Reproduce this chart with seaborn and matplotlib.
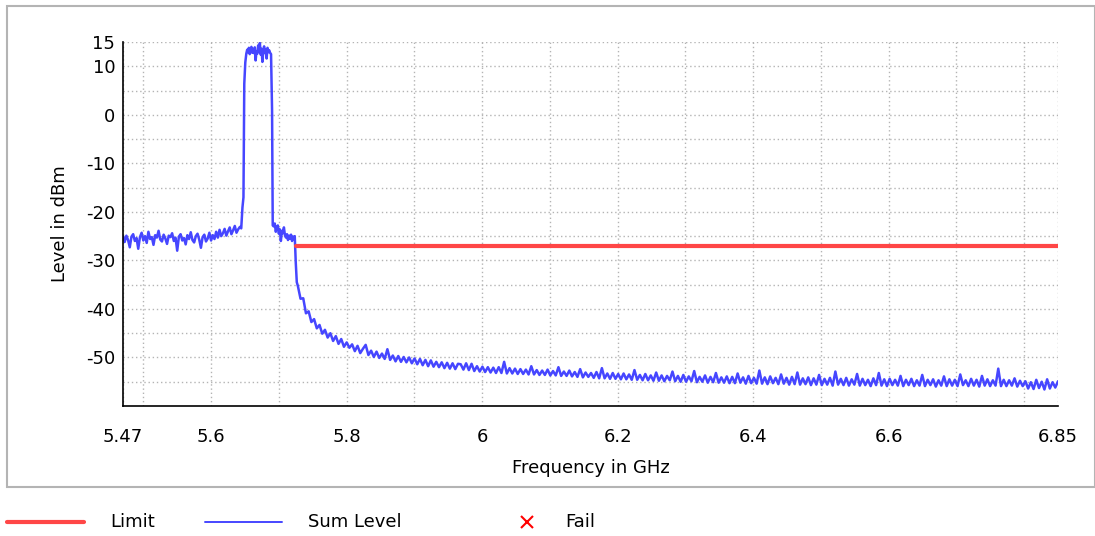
import numpy as np
import pandas as pd
import matplotlib
matplotlib.use("Agg")
import matplotlib.pyplot as plt
from matplotlib.lines import Line2D
from matplotlib.patches import Rectangle
import seaborn as sns

# ---- data (frequency in GHz, level in dBm) ----
# noise floor below the carrier, 5.470 .. 5.6425 GHz
floor_lo = [-25.0, -26.2, -24.9, -25.8, -27.3, -25.1, -24.6, -26.0, -25.4, -27.6,
            -25.2, -24.3, -25.9, -25.0, -26.4, -24.1, -25.6, -25.2, -26.8, -24.8,
            -25.3, -23.9, -25.7, -26.1, -24.7, -25.5, -26.6, -24.9, -25.2, -24.4,
            -26.0, -25.3, -28.0, -25.1, -24.6, -25.9, -25.4, -26.7, -24.8, -25.6,
            -24.2, -25.8, -26.3, -25.0, -24.5, -25.7, -27.4, -25.2, -24.7, -26.1,
            -25.5, -24.3, -25.9, -24.8, -25.6, -24.1, -25.3, -23.7, -25.0, -24.4,
            -23.5, -24.9, -24.0, -23.2, -24.6, -23.8, -22.9, -24.3, -23.6, -23.1]
# rising edge
rise_freq = [5.6445, 5.6463, 5.6478, 5.6490, 5.6505]
rise_level = [-23.4, -19.1, -17.0, 6.4, 10.8]
# carrier plateau 5.652 .. 5.687 GHz
plateau = [12.6, 13.4, 12.9, 13.8, 12.5, 13.2, 14.0, 12.8, 13.5, 12.7,
           13.9, 11.2, 13.1, 12.6, 14.3, 13.0, 14.8, 12.4, 13.6, 10.9,
           13.2, 14.1, 12.7, 13.5, 11.6, 13.8, 12.9, 13.3, 12.8]
# falling edge
fall_freq = [5.6885, 5.6900, 5.6910]
fall_level = [12.5, 1.0, -22.8]
# shoulder 5.6925 .. 5.7225 GHz
shoulder = [-23.0, -22.4, -24.1, -23.3, -22.8, -24.5, -23.6, -26.0, -23.9, -24.4,
            -23.2, -24.8, -25.3, -24.6, -25.8, -24.9, -25.5, -24.7, -26.0, -25.1, -25.4]
# step down
step_freq = [5.7235, 5.7250, 5.7265]
step_level = [-25.0, -30.5, -34.5]
# decaying skirt 5.728 .. 6.85 GHz
skirt = [
    -35.2, -37.9, -37.8, -40.9, -40.5, -42.7, -42.1, -44.0, -43.3, -45.1,
    -44.3, -45.9, -45.0, -46.6, -45.6, -47.2, -46.2, -47.8, -46.9, -48.0,
    -47.3, -48.7, -47.6, -49.1, -48.2, -47.4, -49.5, -48.6, -49.9, -48.8,
    -50.1, -49.2, -50.3, -48.3, -50.5, -49.6, -50.8, -49.7, -50.9, -49.9,
    -51.0, -50.0, -51.2, -50.2, -51.4, -50.3, -51.6, -50.5, -51.8, -50.6,
    -51.9, -50.9, -52.0, -51.0, -52.2, -51.1, -52.3, -51.2, -52.4, -51.3,
    -51.4, -52.5, -51.2, -52.6, -51.3, -52.8, -51.8, -52.9, -51.9, -53.0,
    -52.0, -53.1, -52.1, -53.2, -52.0, -53.2, -50.9, -53.3, -52.2, -53.3,
    -52.3, -53.4, -52.4, -53.4, -52.5, -53.5, -51.8, -53.5, -52.6, -53.6,
    -52.7, -53.6, -52.5, -53.7, -52.8, -53.7, -52.0, -53.8, -52.9, -53.8,
    -52.7, -53.9, -53.0, -54.0, -52.4, -54.1, -53.1, -54.0, -53.2, -54.2,
    -53.0, -54.3, -52.2, -54.3, -53.3, -54.4, -53.2, -54.4, -53.4, -54.5,
    -53.3, -54.5, -53.5, -54.6, -52.6, -54.6, -53.6, -54.7, -53.4, -54.7,
    -53.7, -54.8, -53.1, -54.8, -53.7, -54.9, -53.8, -54.7, -52.9, -54.9,
    -53.8, -55.0, -53.6, -55.0, -53.9, -54.9, -52.8, -55.1, -54.0, -55.0,
    -53.7, -55.2, -54.0, -55.1, -53.2, -55.2, -54.1, -55.2, -53.9, -55.3,
    -54.0, -55.3, -53.3, -55.2, -54.1, -55.4, -53.8, -55.3, -54.2, -55.4,
    -52.7, -55.4, -54.1, -55.5, -53.9, -55.3, -54.2, -55.5, -53.5, -55.4,
    -54.2, -55.6, -54.0, -55.5, -53.1, -55.6, -54.3, -55.5, -54.1, -55.7,
    -54.3, -55.6, -53.6, -55.7, -54.4, -55.6, -54.2, -55.8, -52.9, -55.6,
    -54.4, -55.7, -54.2, -55.8, -54.5, -55.6, -53.4, -55.8, -54.4, -55.7,
    -54.6, -55.9, -54.3, -55.7, -53.2, -55.8, -54.5, -55.9, -54.4, -55.7,
    -54.6, -55.8, -53.8, -55.9, -54.6, -55.7, -54.4, -55.9, -54.7, -55.8,
    -53.6, -55.9, -54.6, -55.7, -54.5, -56.0, -54.7, -55.8, -53.9, -55.9,
    -54.5, -55.8, -54.6, -55.9, -53.5, -55.7, -54.7, -55.9, -54.4, -55.8,
    -54.6, -56.0, -53.8, -55.8, -54.5, -55.9, -54.7, -55.8, -52.3, -55.9,
    -54.6, -55.9, -54.7, -55.8, -54.3, -56.0, -54.8, -55.9, -54.9, -56.4,
    -55.1, -56.5, -54.6, -56.3, -55.0, -56.6, -54.5, -56.4, -55.1, -56.2,
    -54.9]

limit_freq = [5.725, 6.85]
limit_level = [-27.0, -27.0]

x_ticks = [5.47, 5.5, 5.6, 5.7, 5.8, 5.9, 6.0, 6.1, 6.2, 6.3, 6.4, 6.5, 6.6, 6.7, 6.8, 6.85]
x_labels = ["5.47", "", "5.6", "", "5.8", "", "6", "", "6.2", "", "6.4", "", "6.6", "", "", "6.85"]
y_ticks = [-55, -50, -45, -40, -35, -30, -25, -20, -15, -10, -5, 0, 5, 10, 15]
y_labels = ["", "-50", "", "-40", "", "-30", "", "-20", "", "-10", "", "0", "", "10", "15"]

# sweep points (linear frequency grid per segment)
freq = np.concatenate([
    np.linspace(5.470, 5.6425, len(floor_lo)),
    rise_freq,
    np.linspace(5.652, 5.687, len(plateau)),
    fall_freq,
    np.linspace(5.6925, 5.7225, len(shoulder)),
    step_freq,
    np.linspace(5.728, 6.85, len(skirt)),
])
level = np.concatenate([floor_lo, rise_level, plateau, fall_level, shoulder, step_level, skirt])
trace = pd.DataFrame({"freq": freq, "level": level})
limit = pd.DataFrame({"freq": limit_freq, "level": limit_level})

RED = "#ff4646"
BLUE = "#4646ff"

sns.set_style("white")
plt.rcParams["font.family"] = ["DejaVu Sans"]
plt.rcParams["text.color"] = "black"
plt.rcParams["axes.labelcolor"] = "black"
plt.rcParams["xtick.color"] = "black"
plt.rcParams["ytick.color"] = "black"

fig = plt.figure(figsize=(10.95, 5.36), dpi=100)
ax = fig.add_axes([123 / 1095, 1 - 406 / 536, (1058 - 123) / 1095, (406 - 42) / 536])

sns.lineplot(data=trace, x="freq", y="level", ax=ax, color=BLUE, linewidth=1.8,
             estimator=None, sort=False)
sns.lineplot(data=limit, x="freq", y="level", ax=ax, color=RED, linewidth=3.0,
             estimator=None, sort=False)

ax.set_xlim(5.47, 6.85)
ax.set_ylim(-60, 15)
ax.set_xticks(x_ticks)
ax.set_xticklabels(x_labels)
ax.set_yticks(y_ticks)
ax.set_yticklabels(y_labels)
ax.grid(True, color="#b4b4b4", linestyle=(0, (1, 2)), linewidth=1.0)
ax.tick_params(direction="inout", length=9, width=1.1, color="black",
               labelcolor="black", labelsize=13)
ax.tick_params(axis="x", pad=11)
ax.tick_params(axis="y", pad=1)
for s in ["top", "right"]:
    ax.spines[s].set_visible(False)
for s in ["left", "bottom"]:
    ax.spines[s].set_color("black")
    ax.spines[s].set_linewidth(1.2)
ax.set_xlabel("Frequency in GHz", fontsize=13, labelpad=10, color="black")
ax.set_ylabel("Level in dBm", fontsize=13, labelpad=12, color="black")

# outer frame
fig.add_artist(Rectangle((7 / 1095, 1 - 487 / 536), 1 - 7 / 1095, (487 - 6) / 536,
                         transform=fig.transFigure, fill=False,
                         edgecolor="#b4b4b4", linewidth=1.5))

# legend row below the frame
ly = 1 - 522 / 536
fig.add_artist(Line2D([7 / 1095, 84 / 1095], [ly, ly], transform=fig.transFigure,
                      color=RED, linewidth=3.0))
fig.text(110 / 1095, ly, "Limit", fontsize=13, va="center", color="black")
fig.add_artist(Line2D([205 / 1095, 282 / 1095], [ly, ly], transform=fig.transFigure,
                      color=BLUE, linewidth=1.4))
fig.text(308 / 1095, ly, "Sum Level", fontsize=13, va="center", color="black")
fig.add_artist(Line2D([527 / 1095], [ly], transform=fig.transFigure, color="red",
                      marker="x", markersize=9, markeredgewidth=1.5, linestyle="none"))
fig.text(565 / 1095, ly, "Fail", fontsize=13, va="center", color="black")

fig.savefig("out.png", dpi=100)
